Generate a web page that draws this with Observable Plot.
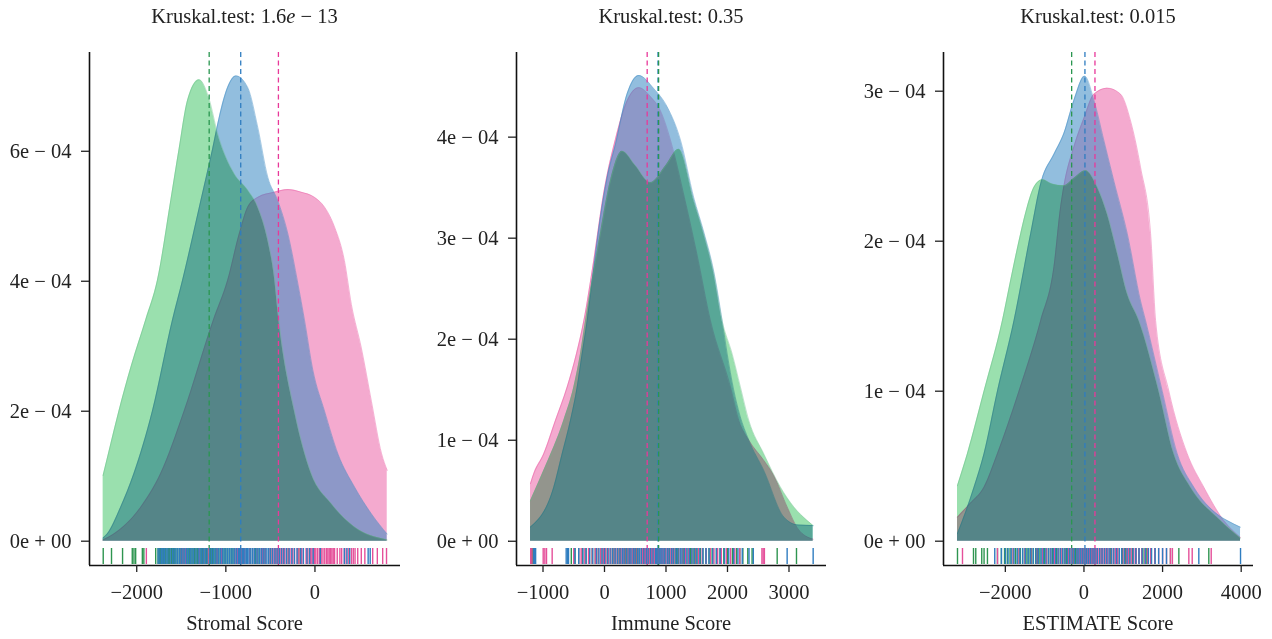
<!DOCTYPE html>
<html><head><meta charset="utf-8">
<script src="https://cdn.jsdelivr.net/npm/d3@7"></script>
<script src="https://cdn.jsdelivr.net/npm/@observablehq/plot@0.6"></script>
<style>
body{margin:0;background:#fff;}
#wrap{position:relative;width:1272px;height:639px;overflow:hidden;font-family:"Liberation Serif",serif;color:#222;}
.panel{position:absolute;top:0;height:639px;}
.title,.xlab{position:absolute;text-align:center;font-size:20.5px;line-height:20.5px;white-space:nowrap;}
.title{top:6px;}
.xlab{top:613px;}
.panel svg{position:absolute;top:34px;left:0;}
</style></head><body><div id="wrap"></div>
<script>
// ---------- Panel 1: Stromal Score (density in units of 1e-4) ----------
const stromalX_pink  = [-2377,-2257,-1956,-1731,-1468,-1140,-980,-849,-754,-642,-455,-304,-154,-4,108,221,330,409,521,634,747,811];
const stromalY_pink  = [0.02,0.11,0.52,1.04,2.0,3.40,4.01,4.73,5.14,5.29,5.37,5.41,5.37,5.29,5.14,4.83,4.32,3.64,2.97,2.15,1.35,1.09];
const stromalX_blue  = [-2377,-2331,-2181,-2031,-1824,-1599,-1486,-1280,-1149,-1074,-980,-886,-754,-642,-529,-417,-304,-191,-117,-23,108,259,446,634,810];
const stromalY_blue  = [0.05,0.11,0.52,1.04,2.0,3.40,4.01,5.24,6.03,6.52,6.98,7.16,6.98,6.37,5.6,5.24,4.73,3.96,3.40,2.63,2.0,1.34,0.83,0.42,0.11];
const stromalX_green = [-2377,-2290,-2200,-2060,-1900,-1768,-1618,-1525,-1430,-1299,-1187,-1092,-905,-754,-642,-529,-455,-405,-230,-42,184,446,810];
const stromalY_green = [1.01,1.5,2.0,2.70,3.40,4.01,5.24,6.03,6.78,7.10,6.80,6.27,5.65,5.40,5.14,4.63,4.06,3.40,2.0,1.04,0.575,0.215,0.02];
const stromalMedians = {pink:-410, blue:-833, green:-1187};
const stromalRug_green = [-2376,-2283,-2159,-2050,-2031,-2012,-1937,-1920,-1787,-1760,-1735,-1700,-1660,-1630,-1590,-1560,-1520,-1490,-1450,-1420,-1390,-1350,-1320,-1290,-1260,-1230,-1200,-1187,-1150,-1120,-1090,-1040,-1000,-960,-920,-870,-820,-760,-700,-640,-560,-480,-400,-300,-180,-60,
  -1745,-1715,-1680,-1645,-1610,-1575,-1540,-1505,-1470,-1435,-1405,-1370,-1335,-1305,-1275,-1245,-1215,-1170,-1135,-1105,-1065,-1020,-980,-940,-900,-850,-790,-730,-670,-600,-520,-440];
const stromalRug_blue  = [-1760,-1720,-1690,-1650,-1600,-1560,-1520,-1480,-1440,-1400,-1360,-1310,-1270,-1230,-1180,-1140,-1100,-1060,-1020,-980,-940,-900,-860,-833,-800,-770,-740,-700,-660,-620,-580,-540,-500,-450,-400,-350,-290,-230,-160,-90,-20,60,330,390,597,
  -1740,-1705,-1670,-1625,-1580,-1540,-1500,-1460,-1420,-1380,-1335,-1290,-1250,-1210,-1160,-1120,-1080,-1040,-1000,-960,-920,-880,-845,-815,-785,-755,-720,-680,-640,-600,-560,-520,-475,-425,-375,-320,-260,-200,-130,-60,360,620];
const stromalRug_pink  = [-1892,-1500,-1480,-1300,-1200,-1100,-900,-880,-850,-830,-760,-700,-620,-560,-520,-480,-440,-410,-380,-340,-300,-250,-200,-150,-100,-50,-20,10,50,90,130,160,190,220,280,330,380,410,450,520,648,803,
  -1450,-1250,-1050,-870,-840,-815,-790,-730,-650,-590,-500,-460,-420,-395,-360,-320,-280,-230,-180,-130,-80,-35,-5,30,70,110,145,175,205,250,300,350,430,480,560,700,760];
const stromalXTicks = [-2000,-1000,0];
const stromalYTicks = [0,2,4,6];
const stromalYTickLabels = ["0e + 00","2e \u2212 04","4e \u2212 04","6e \u2212 04"];

// ---------- Panel 2: Immune Score ----------
const immuneX_pink  = [-1203,-1150,-987,-797,-607,-455,-336,-174,-11,179,369,558,750,911,1073,1300,1500,1724,2049,2184,2347,2591,2753,2970,3150,3393];
const immuneY_pink  = [0.57,0.667,0.865,1.195,1.525,1.855,2.18,2.78,3.45,3.98,4.36,4.49,4.40,4.26,3.97,3.40,2.85,2.18,1.525,1.195,1.0,0.80,0.65,0.34,0.12,0.02];
const immuneX_blue  = [-1203,-824,-688,-553,-444,-363,-282,-174,-65,44,179,369,558,802,1019,1236,1452,1615,1777,1914,1995,2100,2200,2347,2591,2916,3150,3393];
const immuneY_blue  = [0.14,0.535,0.865,1.195,1.525,1.855,2.18,2.71,3.21,3.60,3.93,4.43,4.61,4.48,4.30,3.97,3.40,3.06,2.67,2.18,1.855,1.5,1.25,1.0,0.70,0.24,0.16,0.155];
const immuneX_green = [-1203,-987,-662,-499,-390,-309,-65,98,288,500,748,1000,1208,1452,1615,1777,1914,2076,2211,2347,2591,2862,3078,3296,3393];
const immuneY_green = [0.40,0.70,1.195,1.525,1.855,2.18,3.05,3.57,3.86,3.72,3.55,3.72,3.88,3.37,3.04,2.65,2.18,1.855,1.525,1.195,0.865,0.535,0.34,0.205,0.155];
const immuneMedians = {pink:694, blue:870, green:880};
const immuneRug_pink  = [-1200,-997,-943,-851,-500,-380,-260,-150,-60,20,100,170,240,300,360,420,480,540,600,650,694,720,760,810,870,930,1000,1080,1150,1230,1320,1420,1530,1650,1780,1900,2050,2200,2580,2600,
  -1180,-970,-420,-320,-200,-100,-20,60,135,205,270,330,390,450,510,570,620,670,700,740,780,840,900,960,1040,1110,1190,1270,1370,1470,1590,1720,1840,1980,2120,2560];
const immuneRug_green = [-1190,-1150,-540,-420,-300,-200,-100,-20,60,140,220,300,380,450,520,600,670,740,810,880,900,960,1030,1100,1170,1240,1320,1400,1480,1560,1650,1750,1880,2000,2150,2250,2400,2808,3122,
  -1170,-480,-360,-250,-150,-60,20,100,180,260,340,410,490,560,630,700,770,850,870,930,990,1060,1130,1200,1280,1360,1440,1520,1600,1700,1820,1940,2080,2200,2330];
const immuneRug_blue  = [-1150,-1120,-623,-585,-480,-350,-240,-130,-40,50,130,210,290,360,430,500,570,640,710,790,870,920,980,1050,1120,1190,1260,1340,1420,1500,1600,1700,1820,1950,2100,2240,2420,2970,3393,
  -1140,-600,-420,-300,-190,-90,0,90,170,250,320,400,470,540,600,680,750,830,850,900,950,1020,1090,1160,1230,1300,1380,1460,1550,1650,1760,1880,2020,2170,2350];
const immuneXTicks = [-1000,0,1000,2000,3000];
const immuneYTicks = [0,1,2,3,4];
const immuneYTickLabels = ["0e + 00","1e \u2212 04","2e \u2212 04","3e \u2212 04","4e \u2212 04"];

// ---------- Panel 3: ESTIMATE Score ----------
const estimateX_pink  = [-3217,-2900,-2541,-2200,-1651,-1100,-762,-592,-508,-254,0,254,594,932,1187,1441,1695,1823,2160,2627,3049,3557,3983];
const estimateY_pink  = [0.16,0.25,0.36,0.583,1.0,1.47,1.83,2.23,2.37,2.63,2.82,2.98,3.02,2.98,2.80,2.49,2.05,1.47,1.0,0.583,0.36,0.138,0.025];
const estimateX_blue  = [-3217,-3000,-2795,-2541,-2200,-1779,-1355,-1083,-762,-508,-254,18,254,508,762,1102,1441,1568,1992,2373,2795,3390,3642,3983];
const estimateY_blue  = [0.05,0.2,0.36,0.583,1.0,1.47,2.05,2.40,2.58,2.72,2.94,3.10,2.94,2.67,2.40,2.05,1.60,1.47,1.0,0.583,0.36,0.18,0.138,0.093];
const estimateX_green = [-3217,-2964,-2541,-2074,-1863,-1609,-1440,-1270,-1058,-800,-508,-250,43,340,594,849,1102,1400,1906,2287,2711,3473,3983];
const estimateY_green = [0.37,0.583,1.0,1.47,1.74,2.05,2.23,2.36,2.41,2.38,2.37,2.42,2.47,2.36,2.18,1.92,1.65,1.47,1.0,0.583,0.36,0.138,0.02];
const estimateMedians = {pink:280, blue:25, green:-313};
const estimateRug_green = [-3217,-2810,-2752,-2541,-2455,-2100,-1950,-1800,-1680,-1560,-1450,-1340,-1230,-1120,-1010,-900,-800,-700,-600,-500,-400,-313,-220,-120,-20,80,200,330,460,600,750,900,1060,1230,1400,1600,1800,2414,3176,
  -2600,-2200,-2020,-1880,-1740,-1620,-1500,-1400,-1290,-1180,-1060,-950,-850,-750,-650,-550,-450,-360,-270,-170,-70,30,140,260,400,530,680,820,980,1150,1320,1500,1700,2200];
const estimateRug_blue  = [-2269,-2000,-1850,-1700,-1560,-1420,-1290,-1160,-1030,-900,-780,-660,-540,-420,-300,-180,-80,25,120,230,340,460,580,700,830,960,1100,1250,1400,1560,1720,1900,2100,2922,3983,
  -2100,-1930,-1780,-1630,-1490,-1360,-1220,-1090,-970,-840,-720,-600,-480,-360,-240,-130,-30,70,170,280,400,520,640,760,900,1030,1170,1320,1480,1640,1810,2000];
const estimateRug_pink  = [-3090,-1800,-1500,-1200,-950,-750,-560,-400,-250,-120,0,100,180,250,280,330,400,480,560,650,750,850,960,1080,1200,1330,1470,1620,1800,2000,2200,2668,2754,3237,
  -2200,-1650,-1350,-1050,-850,-650,-480,-320,-180,-60,50,140,215,265,300,360,440,520,600,700,800,900,1020,1140,1270,1400,1550,1700,1900,2100,2250];
const estimateXTicks = [-2000,0,2000,4000];
const estimateYTicks = [0,1,2,3];
const estimateYTickLabels = ["0e + 00","1e \u2212 04","2e \u2212 04","3e \u2212 04"];

const titles = ["Kruskal.test: 1.6<i>e</i> \u2212 13", "Kruskal.test: 0.35", "Kruskal.test: 0.015"];
const xLabels = ["Stromal Score", "Immune Score", "ESTIMATE Score"];

// ---------- styling ----------
const FILL  = {pink:"#EB64A8", blue:"#3989C3", green:"#9AE0AE"};
const EDGE  = {pink:"#E7529E", blue:"#3A87C2", green:"#63B884"};
const DASH  = {pink:"#E8399A", blue:"#2F7DC0", green:"#2A9650"};
const RUG   = {pink:"#E5509A", blue:"#2F7DC0", green:"#2E9550"};

const rows = (xs, ys) => xs.map((x, i) => ({x, y: ys[i]}));
const fmtX = d => d < 0 ? "\u2212" + Math.abs(d) : String(d);

const panels = [
  {left:0, width:420, ml:89, mr:20, xDom:[-2530,960], yDom:[-0.374,7.52],
   curves:{pink:rows(stromalX_pink,stromalY_pink), blue:rows(stromalX_blue,stromalY_blue), green:rows(stromalX_green,stromalY_green)},
   med:stromalMedians, rug:{pink:stromalRug_pink, blue:stromalRug_blue, green:stromalRug_green},
   xt:stromalXTicks, yt:stromalYTicks, ytl:stromalYTickLabels},
  {left:420, width:420, ml:96, mr:14, xDom:[-1431,3610], yDom:[-0.24,4.838],
   curves:{pink:rows(immuneX_pink,immuneY_pink), blue:rows(immuneX_blue,immuneY_blue), green:rows(immuneX_green,immuneY_green)},
   med:immuneMedians, rug:{pink:immuneRug_pink, blue:immuneRug_blue, green:immuneRug_green},
   xt:immuneXTicks, yt:immuneYTicks, ytl:immuneYTickLabels},
  {left:840, width:432, ml:103, mr:19, xDom:[-3573,4313], yDom:[-0.162,3.258],
   curves:{pink:rows(estimateX_pink,estimateY_pink), blue:rows(estimateX_blue,estimateY_blue), green:rows(estimateX_green,estimateY_green)},
   med:estimateMedians, rug:{pink:estimateRug_pink, blue:estimateRug_blue, green:estimateRug_green},
   xt:estimateXTicks, yt:estimateYTicks, ytl:estimateYTickLabels}
];

const H = 605, MT = 18, MB = 74;
const wrap = document.getElementById("wrap");

panels.forEach((p, k) => {
  const div = document.createElement("div");
  div.className = "panel";
  div.style.left = p.left + "px";
  div.style.width = p.width + "px";
  const fw = p.width - p.ml - p.mr;
  const t = document.createElement("div");
  t.className = "title"; t.innerHTML = titles[k];
  t.style.left = p.ml + "px"; t.style.width = fw + "px";
  const xl = document.createElement("div");
  xl.className = "xlab"; xl.textContent = xLabels[k];
  xl.style.left = p.ml + "px"; xl.style.width = fw + "px";

  const fh = H - MT - MB;
  const marks = [];
  for (const g of ["pink","blue"]) {
    marks.push(Plot.areaY(p.curves[g], {x:"x", y:"y", fill:FILL[g], fillOpacity:0.55, curve:"monotone-x"}));
    marks.push(Plot.lineY(p.curves[g], {x:"x", y:"y", stroke:EDGE[g], strokeOpacity:0.55, strokeWidth:0.8, curve:"monotone-x"}));
  }
  marks.push(Plot.areaY(p.curves.green, {x:"x", y:"y", fill:FILL.green, mixBlendMode:"multiply", curve:"monotone-x"}));
  marks.push(Plot.lineY(p.curves.green, {x:"x", y:"y", stroke:EDGE.green, strokeOpacity:0.5, strokeWidth:0.8, curve:"monotone-x"}));
  for (const g of ["pink","blue","green"]) {
    marks.push(Plot.ruleX([p.med[g]], {x:d=>d, stroke:DASH[g], strokeWidth:1.3, strokeDasharray:"5,3.5"}));
  }
  for (const g of ["green","pink","blue"]) {
    marks.push(Plot.ruleX(p.rug[g], {x:d=>d, stroke:RUG[g], strokeWidth:1.4, strokeOpacity:1, insetTop:fh-17, insetBottom:1}));
  }
  marks.push(Plot.ruleX([p.xDom[0]], {x:d=>d, stroke:"#111", strokeWidth:1.6}));
  marks.push(Plot.ruleY([p.yDom[0]], {y:d=>d, stroke:"#111", strokeWidth:1.6}));
  marks.push(Plot.axisX({ticks:p.xt, tickFormat:fmtX, tickSize:7, tickPadding:12, label:null, strokeWidth:1.3, fontSize:20.5}));
  marks.push(Plot.axisY({ticks:p.yt, tickFormat:d => p.ytl[p.yt.indexOf(d)], tickSize:8, tickPadding:10, label:null, strokeWidth:1.3, fontSize:20.5}));

  const svg = Plot.plot({
    width:p.width, height:H, marginLeft:p.ml, marginRight:p.mr, marginTop:MT, marginBottom:MB,
    style:{fontFamily:"'Liberation Serif', serif", fontSize:"20.5px", color:"#222", background:"transparent", overflow:"visible"},
    x:{domain:p.xDom},
    y:{domain:p.yDom},
    marks
  });
  div.appendChild(svg);
  div.appendChild(t);
  div.appendChild(xl);
  wrap.appendChild(div);
});
</script></body></html>
